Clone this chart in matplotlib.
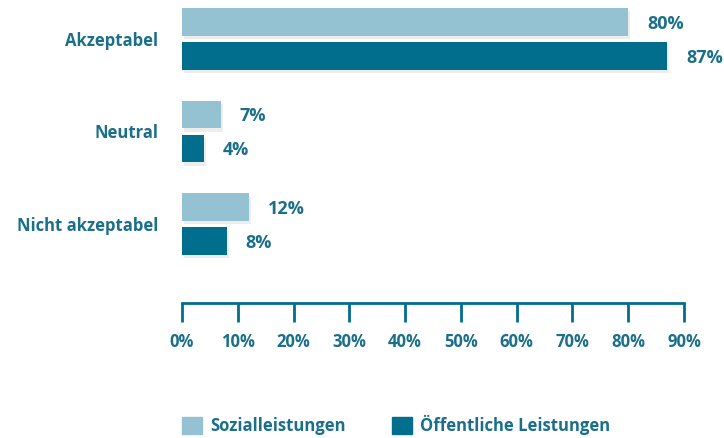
import matplotlib.pyplot as plt
import matplotlib.patheffects as pe
from matplotlib.patches import Patch
from matplotlib.ticker import FuncFormatter

# Daten
kategorien = ["Akzeptabel", "Neutral", "Nicht akzeptabel"]
sozial = [80, 7, 12]
oeffentlich = [87, 4, 8]
serien = ["Sozialleistungen", "Öffentliche Leistungen"]
ticks = list(range(0, 100, 10))

HELL = "#95c2d2"
DUNKEL = "#006e8c"
TEXT = "#1b6f8b"
FS = 12

plt.rcParams['font.family'] = ['Open Sans', 'DejaVu Sans']
plt.rcParams['font.weight'] = 'bold'

fig = plt.figure(figsize=(7.24, 4.38), dpi=100)
ax = fig.add_axes([182/724, 135/438, 502/724, 303/438])

schatten = [pe.SimplePatchShadow(offset=(1.5, -2.5), shadow_rgbFace='#bbbbbb', alpha=0.25), pe.Normal()]

y = list(range(len(kategorien)))
h = 0.30
off = 0.184
b1 = ax.barh([v - off for v in y], sozial, height=h, color=HELL, path_effects=schatten)
b2 = ax.barh([v + off for v in y], oeffentlich, height=h, color=DUNKEL, path_effects=schatten)

for bars, werte in ((b1, sozial), (b2, oeffentlich)):
    for b, w in zip(bars, werte):
        ax.annotate(f"{w}%", (w, b.get_y() + b.get_height() / 2), xytext=(13.5, -1.2),
                    textcoords='offset points', va='center', ha='left',
                    fontsize=13, fontweight='bold', color=TEXT)

ax.set_xlim(0, 90)
ax.set_ylim(2.854, -0.42)
ax.set_xticks(ticks)
ax.xaxis.set_major_formatter(FuncFormatter(lambda v, p: f"{int(v)}%"))
ax.set_yticks(y)
ax.set_yticklabels(kategorien)

for s in ('top', 'left', 'right'):
    ax.spines[s].set_visible(False)
ax.spines['bottom'].set_color(DUNKEL)
ax.spines['bottom'].set_linewidth(2)
ax.tick_params(axis='x', direction='out', length=13.5, width=2, color=DUNKEL,
               labelsize=FS, labelcolor=TEXT, pad=8)
ax.tick_params(axis='y', length=0, labelsize=FS, labelcolor=TEXT, pad=17)
for t in ax.get_xticklabels() + ax.get_yticklabels():
    t.set_fontweight('bold')

handles = [Patch(color=HELL), Patch(color=DUNKEL)]
leg = fig.legend(handles, serien, loc='lower left', bbox_to_anchor=(167/724, -0.028),
                 ncol=2, frameon=False, fontsize=FS, handlelength=1.2, handleheight=1.2,
                 handletextpad=0.5, columnspacing=2.75)
for t in leg.get_texts():
    t.set_color(TEXT)
    t.set_fontweight('bold')

fig.savefig("out.png", dpi=100)
